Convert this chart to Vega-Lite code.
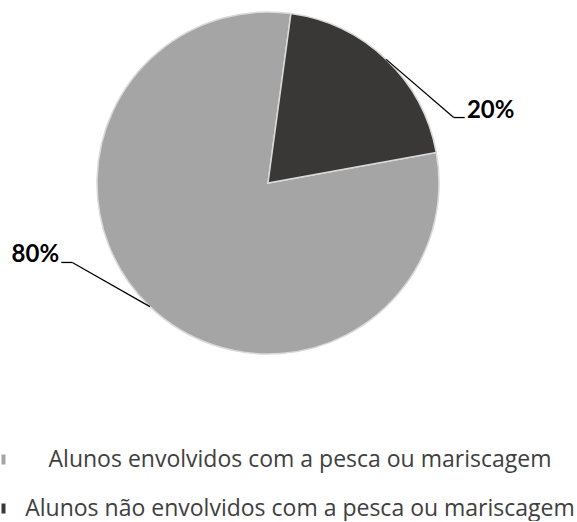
{
  "$schema": "https://vega.github.io/schema/vega-lite/v6.json",
  "width": 536,
  "height": 366,
  "padding": 0,
  "autosize": {"type": "pad"},
  "background": "white",
  "config": {"view": {"stroke": null}},
  "data": {
    "values": [
      {"categoria": "Alunos envolvidos com a pesca ou mariscagem", "valor": 80},
      {"categoria": "Alunos não envolvidos com a pesca ou mariscagem", "valor": 20}
    ]
  },
  "layer": [
    {
      "mark": {"type": "arc", "outerRadius": 171, "stroke": "#d9d9d9", "strokeWidth": 1.5},
      "encoding": {
        "theta": {"field": "valor", "type": "quantitative", "stack": true, "scale": {"range": [1.391, 7.6742]}},
        "order": {"field": "categoria", "sort": "ascending"},
        "color": {
          "field": "categoria",
          "type": "nominal",
          "scale": {"range": ["#a5a5a5", "#3a3836"]},
          "legend": {
            "title": null,
            "orient": "none",
            "legendX": 0,
            "legendY": 448,
            "direction": "vertical",
            "symbolType": "M-2,-1H-1.2V1H-2Z",
            "symbolSize": 100,
            "symbolStrokeWidth": 0,
            "symbolOpacity": 1,
            "labelFont": "Open Sans",
            "labelFontSize": 23,
            "labelColor": "#404040",
            "labelAlign": "center",
            "labelOffset": 277,
            "labelLimit": 1000,
            "rowPadding": 25,
            "padding": 0
          }
        }
      }
    },
    {
      "transform": [
        {"window": [{"op": "sum", "field": "valor", "as": "acum"}], "sort": [{"field": "categoria", "order": "ascending"}], "frame": [null, 0]},
        {"joinaggregate": [{"op": "sum", "field": "valor", "as": "total"}]},
        {"calculate": "1.391 + 2*PI*(datum.acum - datum.valor/2)/datum.total", "as": "meio"},
        {"calculate": "171*sin(datum.meio)", "as": "x0"},
        {"calculate": "171*cos(datum.meio)", "as": "y0"},
        {"calculate": "204*sin(datum.meio+0.445) - 5", "as": "xc"},
        {"calculate": "204*cos(datum.meio+0.445) - 7", "as": "yc"},
        {"calculate": "sin(datum.meio) >= 0 ? 1 : -1", "as": "lado"},
        {"calculate": "datum.xc + 11*datum.lado", "as": "xt"},
        {"calculate": "datum.xt + 26*datum.lado", "as": "xl"},
        {"calculate": "datum.valor + '%'", "as": "rotulo"}
      ],
      "layer": [
        {
          "mark": {"type": "rule", "color": "black", "strokeWidth": 1.3},
          "encoding": {
            "x": {"field": "x0", "type": "quantitative", "scale": {"domain": [-268, 268], "nice": false, "zero": false}, "axis": null},
            "y": {"field": "y0", "type": "quantitative", "scale": {"domain": [-183, 183], "nice": false, "zero": false}, "axis": null},
            "x2": {"field": "xc"},
            "y2": {"field": "yc"}
          }
        },
        {
          "mark": {"type": "rule", "color": "black", "strokeWidth": 1.3},
          "encoding": {
            "x": {"field": "xc", "type": "quantitative"},
            "y": {"field": "yc", "type": "quantitative"},
            "x2": {"field": "xt"},
            "y2": {"field": "yc"}
          }
        },
        {
          "mark": {"type": "text", "font": "Lato", "fontWeight": "bold", "fontSize": 24, "align": "center", "baseline": "alphabetic", "color": "black"},
          "encoding": {
            "x": {"field": "xl", "type": "quantitative"},
            "y": {"field": "yc", "type": "quantitative"},
            "text": {"field": "rotulo"}
          }
        }
      ]
    }
  ]
}
